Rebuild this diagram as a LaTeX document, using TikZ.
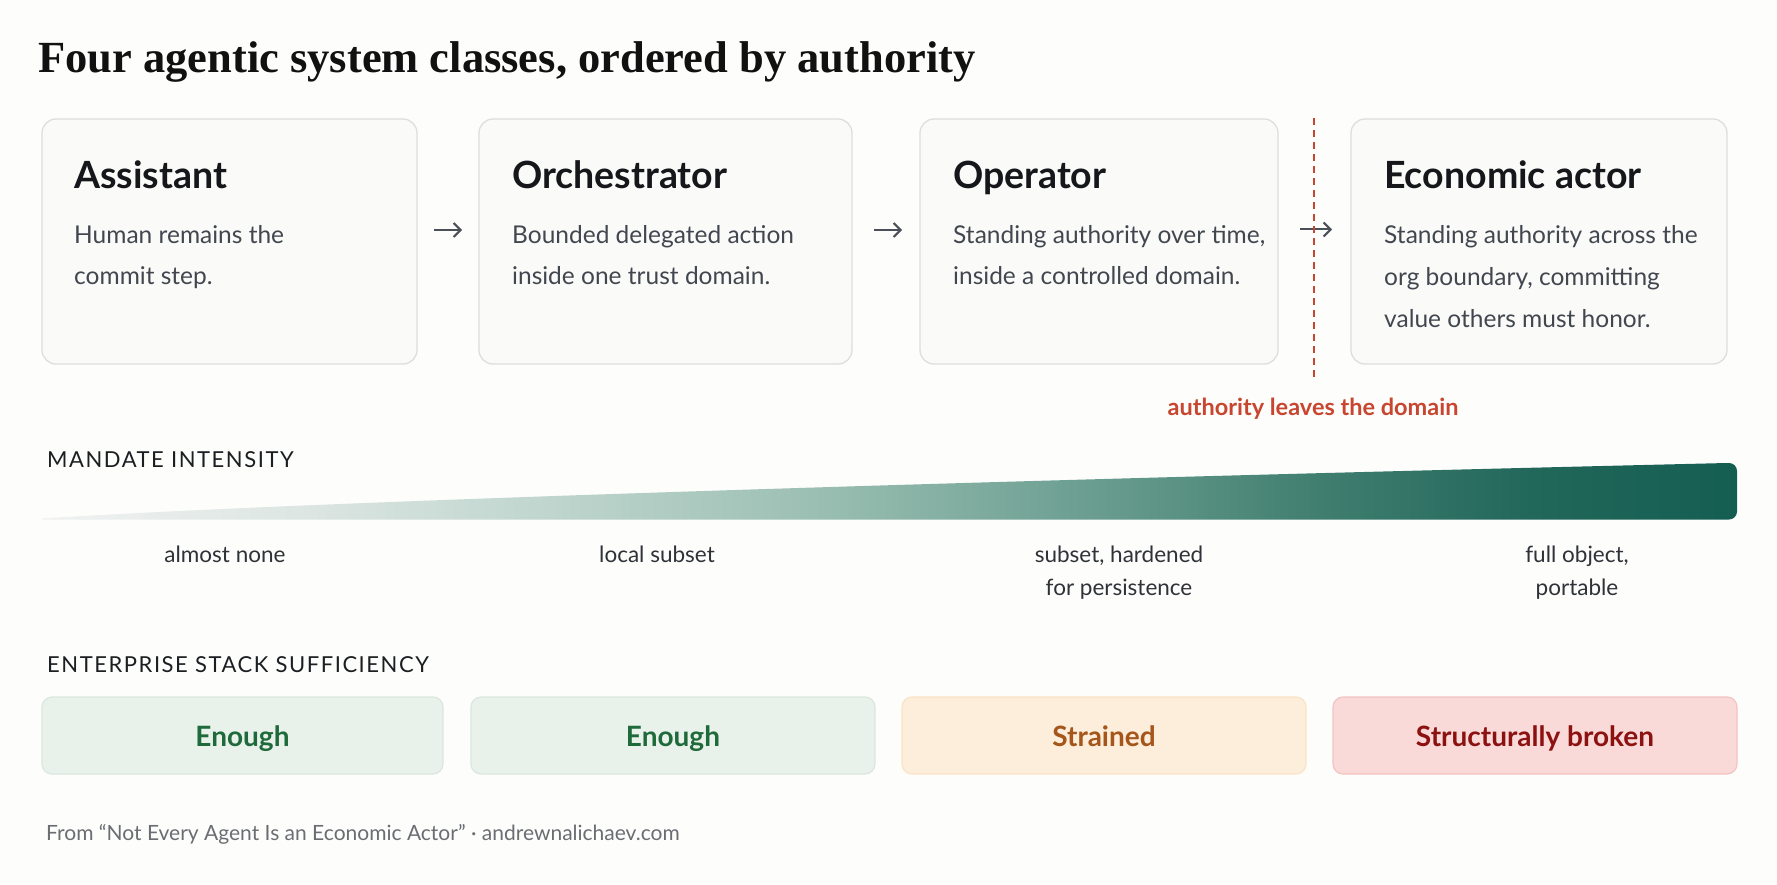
\documentclass[tikz,border=0pt]{standalone}
\usepackage{fontspec}
\setmainfont{Lato}
\newfontfamily\titlefont{Liberation Serif}
\usetikzlibrary{arrows.meta}
\definecolor{bg}{HTML}{FDFDFC}
\definecolor{titlec}{HTML}{111111}
\definecolor{headc}{HTML}{15171A}
\definecolor{bodyc}{HTML}{42474F}
\definecolor{labc}{HTML}{2F3338}
\definecolor{secc}{HTML}{1C1F22}
\definecolor{arrc}{HTML}{4B5058}
\definecolor{redc}{HTML}{C8462F}
\definecolor{cardb}{HTML}{DEDEDE}
\definecolor{cardf}{HTML}{FAFAF9}
\definecolor{gfill}{HTML}{E9F1EB}
\definecolor{gbord}{HTML}{DBE7DE}
\definecolor{gtext}{HTML}{1F6A3A}
\definecolor{ofill}{HTML}{FDEEDB}
\definecolor{obord}{HTML}{FAE3C7}
\definecolor{otext}{HTML}{A4561B}
\definecolor{rfill}{HTML}{F9DAD8}
\definecolor{rbord}{HTML}{F2C4C1}
\definecolor{rtext}{HTML}{8C1111}
\definecolor{footc}{HTML}{6A6D72}
\definecolor{g0}{HTML}{F0F2F1}
\definecolor{g1}{HTML}{DDE6E3}
\definecolor{g2}{HTML}{BFD5CE}
\definecolor{g3}{HTML}{9DC0B4}
\definecolor{g4}{HTML}{70A294}
\definecolor{g5}{HTML}{417F70}
\definecolor{g6}{HTML}{21675A}
\definecolor{g7}{HTML}{145E51}
\pgfdeclarehorizontalshading{mandate}{100bp}{color(0bp)=(g0); color(25bp)=(g0); color(32.5bp)=(g1); color(40bp)=(g2); color(47.5bp)=(g3); color(55bp)=(g4); color(62.5bp)=(g5); color(69bp)=(g6); color(75bp)=(g7); color(100bp)=(g7)}
\tikzset{
  card/.style={draw=cardb, line width=1.3pt, fill=cardf, rounded corners=14pt, anchor=north west, inner sep=0pt, outer sep=0pt},
  chip/.style={line width=1.2pt, rounded corners=10pt, anchor=north west, inner sep=0pt, outer sep=0pt, minimum height=77pt},
  head/.style={anchor=base west, inner sep=0pt, text=headc, font=\fontsize{37.5}{40}\selectfont\bfseries},
  body/.style={anchor=base west, inner sep=0pt, text=bodyc, align=left, font=\fontsize{24.5}{42}\selectfont},
  lab/.style={anchor=base, inner sep=0pt, text=labc, align=center, font=\fontsize{22.5}{33}\selectfont},
  sec/.style={anchor=base west, inner sep=0pt, text=secc, font=\fontsize{22}{24}\selectfont\addfontfeatures{LetterSpace=7}},
  chiptext/.style={inner sep=0pt, font=\fontsize{28}{30}\selectfont\bfseries},
  flow/.style={draw=arrc, line width=2pt, -{Straight Barb[length=7pt,width=14pt]}},
}
\begin{document}
\begin{tikzpicture}[x=1pt,y=-1pt]
\fill[bg] (0,0) rectangle (1777,885);
\useasboundingbox (0,0) rectangle (1777,885);

\node[anchor=base west, inner sep=0pt, text=titlec, font=\titlefont\fontsize{44.5}{50}\selectfont\bfseries] (title) at (38,73) {Four agentic system classes, ordered by authority};

% cards
\node[card, minimum width=375pt, minimum height=245pt] (c1) at (42,119) {};
\node[card, minimum width=373pt, minimum height=245pt] (c2) at (479,119) {};
\node[card, minimum width=358pt, minimum height=245pt] (c3) at (920,119) {};
\node[card, minimum width=376pt, minimum height=245pt] (c4) at (1351,119) {};

\node[head] (h1) at (74,189) {Assistant};
\node[body] (b1) at (74,285) {Human remains the\\commit step.};
\node[head] (h2) at (512,189) {Orchestrator};
\node[body] (b2) at (512,285) {Bounded delegated action\\inside one trust domain.};
\node[head] (h3) at (953,189) {Operator};
\node[body] (b3) at (953,285) {Standing authority over time,\\inside a controlled domain.};
\node[head] (h4) at (1384,189) {Economic actor};
\node[body] (b4) at (1384,327) {Standing authority across the\\org boundary, committing\\value others must honor.};

\draw[flow, shorten <=17pt, shorten >=17pt] ([yshift=11.5pt]c1.east) -- ([yshift=11.5pt]c2.west);
\draw[flow, shorten <=22pt, shorten >=18pt] ([yshift=11.5pt]c2.east) -- ([yshift=11.5pt]c3.west);
\draw[flow, shorten <=22pt, shorten >=19pt] ([yshift=12pt]c3.east) -- ([yshift=12pt]c4.west);

% domain boundary
\coordinate (dtop) at (1314,118);
\coordinate (dbot) at (1314,380);
\draw[redc, line width=1.6pt, dash pattern=on 7pt off 5pt] (dtop) -- (dbot);
\node[anchor=base, inner sep=0pt, text=redc, font=\fontsize{23.5}{26}\selectfont\bfseries] (leave) at (1313,415) {authority leaves the domain};

% mandate intensity
\node[sec] (mi) at (47,467) {MANDATE INTENSITY};
\shade[shading=mandate] (42,518.5) .. controls (250,505) and (800,485) .. (1727,463) [rounded corners=8pt] -- (1737,463) -- (1737,519.5) [sharp corners] -- (1500,519.5) -- (42,519.5) -- cycle;

\node[lab] (l1) at (225,562) {almost none};
\node[lab] (l2) at (657,562) {local subset};
\node[lab] (l3) at (1119,595) {subset, hardened\\for persistence};
\node[lab] (l4) at (1577,595) {full object,\\portable};

% sufficiency
\node[sec] (es) at (47,672) {ENTERPRISE STACK SUFFICIENCY};
\node[chip, draw=gbord, fill=gfill, minimum width=401pt] (s1) at (42,697) {};
\node[chip, draw=gbord, fill=gfill, minimum width=404pt] (s2) at (471,697) {};
\node[chip, draw=obord, fill=ofill, minimum width=404pt] (s3) at (902,697) {};
\node[chip, draw=rbord, fill=rfill, minimum width=404pt] (s4) at (1333,697) {};
\node[chiptext, text=gtext, anchor=base] (e1) at ([yshift=-49pt]s1.north) {Enough};
\node[chiptext, text=gtext, anchor=base] (e2) at ([yshift=-49pt]s2.north) {Enough};
\node[chiptext, text=otext, anchor=base] (e3) at ([yshift=-49pt]s3.north) {Strained};
\node[chiptext, text=rtext, anchor=base] (e4) at ([yshift=-49pt]s4.north) {Structurally broken};

\node[anchor=base west, inner sep=0pt, text=footc, font=\fontsize{21}{22}\selectfont] (foot) at (46,840) {From “Not Every Agent Is an Economic Actor” · andrewnalichaev.com};
\end{tikzpicture}
\end{document}
